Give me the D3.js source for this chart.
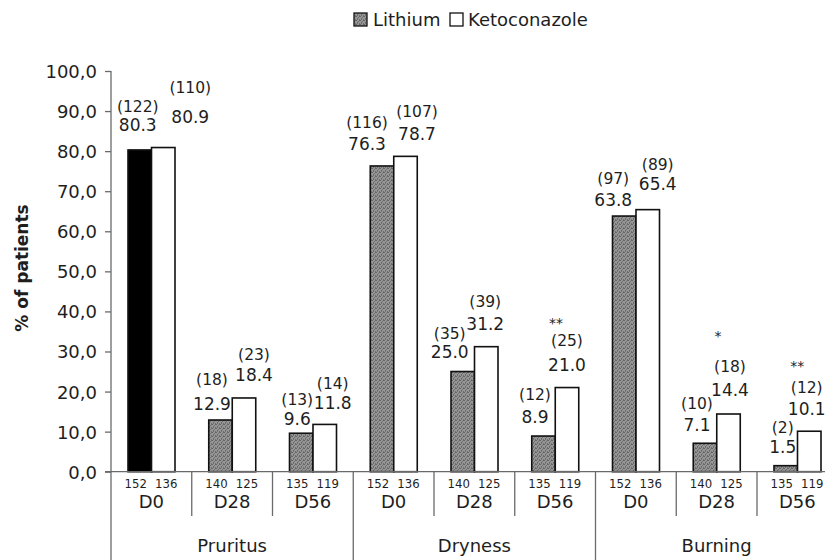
<!DOCTYPE html>
<html>
<head>
<meta charset="utf-8">
<script src="https://cdn.jsdelivr.net/npm/d3@7"></script>
<style>
  html, body { margin: 0; padding: 0; background: #fff; }
  svg { display: block; }
  text { font-family: "DejaVu Sans", sans-serif; fill: #1e1e1e; }
</style>
</head>
<body>
<svg id="chart" width="825" height="560"></svg>
<script>
// ---------- data ----------
const categories = ["Pruritus", "Dryness", "Burning"];
const timepoints = ["D0", "D28", "D56"];
const seriesNames = ["Lithium", "Ketoconazole"];
const lithiumPct = [80.3, 12.9, 9.6, 76.3, 25.0, 8.9, 63.8, 7.1, 1.5];
const ketoPct = [80.9, 18.4, 11.8, 78.7, 31.2, 21.0, 65.4, 14.4, 10.1];
const lithiumCount = [122, 18, 13, 116, 35, 12, 97, 10, 2];
const ketoCount = [110, 23, 14, 107, 39, 25, 89, 18, 12];
const lithiumN = [152, 140, 135, 152, 140, 135, 152, 140, 135];
const ketoN = [136, 125, 119, 136, 125, 119, 136, 125, 119];
const significance = ["", "", "", "", "", "**", "", "*", "**"];
const yTicks = [0, 10, 20, 30, 40, 50, 60, 70, 80, 90, 100];

// ---------- label layout (pixel nudges, kept apart from data) ----------
const liLabelDx = [-2, -8.5, -4, -15, -13, -8.5, -11, -8, -3];
const liValueDy = [-18.5, -10, -8, -15.5, -14, -13, -10.5, -12, -13];
const liCountDy = [-19, -25, -20, -22, -19, -23, -22, -22, -20];
const kLabelDx = [27, 10, 8, 11.5, -1, 0, 10, 1.5, -2.5];
const kValueDy = [-25, -17, -15.5, -16, -17, -17, -20, -18, -16];
const kCountDy = [-30, -21, -20, -23, -23, -25, -20, -24, -22];
const sigDx = [0, 0, 0, 0, 0, -11, 0, -10.5, -12];
const sigDy = [0, 0, 0, 0, 0, -18, 0, -31, -22];

// ---------- build ----------
const groups = [];
categories.forEach((c, ci) => timepoints.forEach((t, ti) => groups.push({ cat: c, ci, tp: t, i: ci * 3 + ti })));

const svg = d3.select("#chart");
const W = 825, H = 560;
const x0 = 111, bandW = 80.75;

const x = d3.scaleBand().domain(d3.range(groups.length)).range([x0, x0 + bandW * groups.length]).paddingInner(0).paddingOuter(0);
const xs = d3.scaleBand().domain(seriesNames).range([17, 64]).padding(0);
const y = d3.scaleLinear().domain([0, 100]).range([471.7, 71]);

// stipple pattern for lithium bars
const defs = svg.append("defs");
const pat = defs.append("pattern").attr("id", "stipple").attr("patternUnits", "userSpaceOnUse")
  .attr("width", 4).attr("height", 4);
pat.append("rect").attr("width", 4).attr("height", 4).attr("fill", "#969696");
[[0, 0], [2, 1], [1, 2], [3, 3], [3, 0], [1, 3]].forEach(([px, py], k) => {
  pat.append("rect").attr("x", px).attr("y", py).attr("width", 1).attr("height", 1)
    .attr("fill", k % 2 ? "#707070" : "#666666");
});

const axisColor = "#6a6a6a";

// y axis
const yAxis = d3.axisLeft(y).tickValues(yTicks).tickSize(6).tickSizeOuter(0)
  .tickFormat(d => d3.format(".1f")(d).replace(".", ","));
const gy = svg.append("g").attr("transform", `translate(${x0},0)`).call(yAxis);
gy.select(".domain").remove();
gy.selectAll(".tick line").attr("stroke", axisColor).attr("stroke-width", 1.3);
gy.selectAll(".tick text").attr("x", -14).attr("dy", "0.36em")
  .style("font-size", "18px").style("font-family", "DejaVu Sans, sans-serif").attr("fill", "#1e1e1e");

// vertical axis line extending to bottom
svg.append("line").attr("x1", x0).attr("x2", x0).attr("y1", y(100)).attr("y2", H)
  .attr("stroke", axisColor).attr("stroke-width", 1.3);

// y title
svg.append("text").attr("transform", `translate(28,268) rotate(-90)`).attr("text-anchor", "middle")
  .style("font-size", "17px").style("font-weight", "bold").text("% of patients");

// bars
const barData = [];
groups.forEach(g => {
  barData.push({ g, s: "Lithium", v: lithiumPct[g.i], n: lithiumCount[g.i], N: lithiumN[g.i] });
  barData.push({ g, s: "Ketoconazole", v: ketoPct[g.i], n: ketoCount[g.i], N: ketoN[g.i] });
});
const fillFor = d => d.s === "Ketoconazole" ? "#ffffff" : (d.g.i === 0 ? "#000000" : "url(#stipple)");

svg.append("g").selectAll("rect").data(barData).join("rect")
  .attr("x", d => x(d.g.i) + xs(d.s))
  .attr("y", d => y(d.v))
  .attr("width", xs.bandwidth())
  .attr("height", d => y(0) - y(d.v))
  .attr("fill", fillFor)
  .attr("stroke", "#111")
  .attr("stroke-width", 1.6);

// baseline
svg.append("line").attr("x1", x0 - 6).attr("x2", W).attr("y1", y(0)).attr("y2", y(0))
  .attr("stroke", axisColor).attr("stroke-width", 1.3);

// value labels
const lab = svg.append("g");
barData.forEach(d => {
  const i = d.g.i, isLi = d.s === "Lithium";
  const cx = x(i) + xs(d.s) + xs.bandwidth() / 2 + (isLi ? liLabelDx[i] : kLabelDx[i]);
  const vb = y(d.v) + (isLi ? liValueDy[i] : kValueDy[i]);
  const cb = vb + (isLi ? liCountDy[i] : kCountDy[i]);
  lab.append("text").attr("x", cx).attr("y", vb).attr("text-anchor", "middle")
    .style("font-size", "17px").text(d3.format(".1f")(d.v));
  lab.append("text").attr("x", cx).attr("y", cb).attr("text-anchor", "middle")
    .style("font-size", "15.5px").text(`(${d.n})`);
  if (!isLi && significance[i]) {
    lab.append("text").attr("x", x(i) + xs(d.s) + xs.bandwidth() / 2 + sigDx[i]).attr("y", cb + sigDy[i])
      .attr("text-anchor", "middle").style("font-size", "14px").text(significance[i]);
  }
});

// n under bars
svg.append("g").selectAll("text").data(barData).join("text")
  .attr("x", d => x(d.g.i) + xs(d.s) + xs.bandwidth() / 2 + (d.s === "Lithium" ? -4 : 3))
  .attr("y", 488)
  .attr("text-anchor", "middle")
  .style("font-family", "'Liberation Sans Narrow', 'DejaVu Sans Condensed', sans-serif")
  .style("font-size", "13px")
  .text(d => d.N);

// timepoint labels
svg.append("g").selectAll("text").data(groups).join("text")
  .attr("x", d => x(d.i) + x.bandwidth() / 2)
  .attr("y", 508)
  .attr("text-anchor", "middle")
  .style("font-size", "18px")
  .text(d => d.tp);

// separators
groups.forEach(g => {
  if (g.i === 0) return;
  const isCat = g.i % 3 === 0;
  svg.append("line").attr("x1", x(g.i)).attr("x2", x(g.i))
    .attr("y1", y(0)).attr("y2", isCat ? H : 516)
    .attr("stroke", axisColor).attr("stroke-width", 1.3);
});

// category labels
svg.append("g").selectAll("text").data(categories).join("text")
  .attr("x", (d, ci) => (x(ci * 3) + x(ci * 3 + 2) + x.bandwidth()) / 2)
  .attr("y", 552)
  .attr("text-anchor", "middle")
  .style("font-size", "18px")
  .text(d => d);

// legend
const legendItems = [
  { name: "Lithium", fill: "url(#stipple)", sx: 354, tx: 373 },
  { name: "Ketoconazole", fill: "#ffffff", sx: 450, tx: 468 }
];
const lg = svg.append("g");
legendItems.forEach(it => {
  lg.append("rect").attr("x", it.sx).attr("y", 13).attr("width", 13).attr("height", 13)
    .attr("fill", it.fill).attr("stroke", "#111").attr("stroke-width", 1.3);
  lg.append("text").attr("x", it.tx).attr("y", 26).style("font-size", "18px").text(it.name);
});
</script>
</body>
</html>
